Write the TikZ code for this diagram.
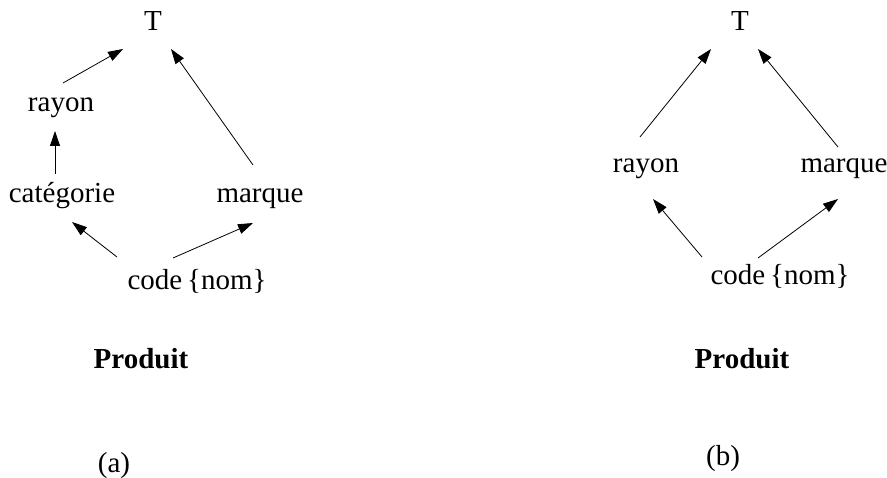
\documentclass[tikz,border=0pt]{standalone}
\usepackage{fontspec}
\setmainfont{Liberation Serif}
\usetikzlibrary{arrows.meta}
\begin{document}
\begin{tikzpicture}[x=1pt,y=-1pt,
  lbl/.style={anchor=base,inner sep=0pt,font=\fontsize{29}{33}\selectfont},
  arr/.style={-{Triangle[length=15pt,width=10pt]},line width=0.8pt}]
\useasboundingbox (0,0) rectangle (887,478);
% (a)
\node[lbl] (Ta) at (153,31) {T};
\node[lbl] (ra) at (61,112) {rayon};
\node[lbl] (ca) at (62,203) {catégorie};
\node[lbl] (ma) at (260,203) {marque};
\node[lbl] (cda) at (197,290) {code\,\{nom\}};
\node[lbl,font=\fontsize{29}{33}\selectfont\bfseries] (pa) at (141,369) {Produit};
\node[lbl] (la) at (114,472) {(a)};
\coordinate (ra1) at (63,83);   \coordinate (Ta1) at (123,49);
\coordinate (ca1) at (55,174);  \coordinate (ra2) at (55,131);
\coordinate (cda1) at (117,257);\coordinate (ca2) at (72,222);
\coordinate (cda2) at (173,258);\coordinate (ma1) at (253,223);
\coordinate (ma2) at (253,165); \coordinate (Ta2) at (171,49);
\draw[arr] (ra1) -- (Ta1);
\draw[arr] (ca1) -- (ra2);
\draw[arr] (cda1) -- (ca2);
\draw[arr] (cda2) -- (ma1);
\draw[arr] (ma2) -- (Ta2);
% (b)
\node[lbl] (Tb) at (740,31) {T};
\node[lbl] (rb) at (646,173) {rayon};
\node[lbl] (mb) at (844,173) {marque};
\node[lbl] (cdb) at (780,285) {code\,\{nom\}};
\node[lbl,font=\fontsize{29}{33}\selectfont\bfseries] (pb) at (742,369) {Produit};
\node[lbl] (lb) at (723,465) {(b)};
\coordinate (rb1) at (640,137);  \coordinate (Tb1) at (711,49);
\coordinate (mb1) at (838,147);  \coordinate (Tb2) at (758,49);
\coordinate (cdb1) at (702,257); \coordinate (rb2) at (653,199);
\coordinate (cdb2) at (758,258); \coordinate (mb2) at (838,199);
\draw[arr] (rb1) -- (Tb1);
\draw[arr] (mb1) -- (Tb2);
\draw[arr] (cdb1) -- (rb2);
\draw[arr] (cdb2) -- (mb2);
\end{tikzpicture}
\end{document}
